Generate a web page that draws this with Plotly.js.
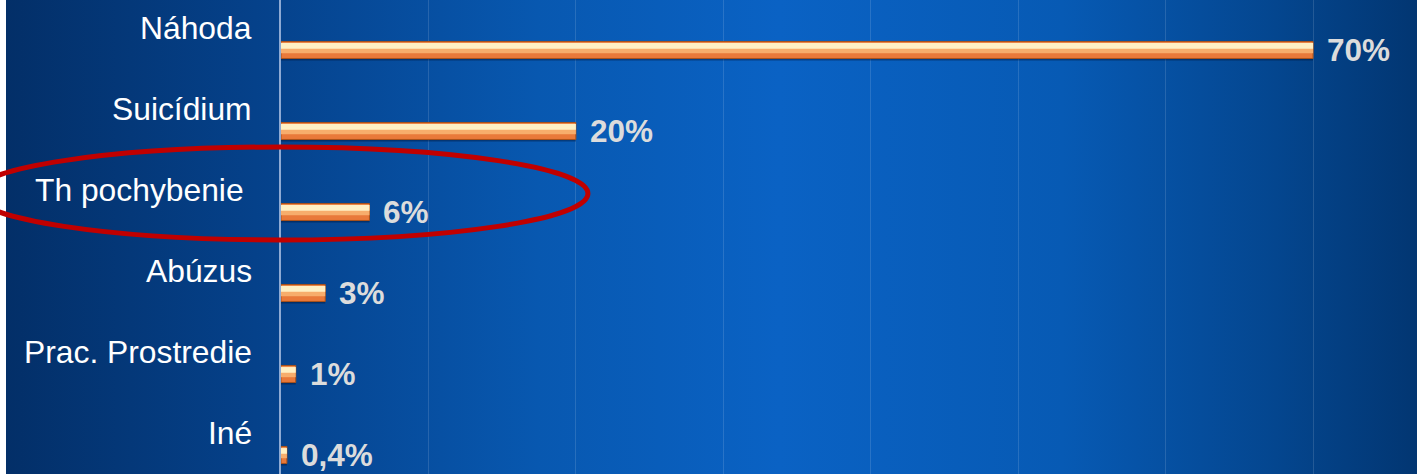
<!DOCTYPE html>
<html><head><meta charset="utf-8">
<script src="https://cdn.plot.ly/plotly-3.0.1.min.js"></script>
<style>
html,body{margin:0;padding:0;}
body{width:1417px;height:474px;overflow:hidden;
background:linear-gradient(to right,#ffffff 0px,#ffffff 6px,#032f68 6px,#05418a 18%,#0858b0 38%,#0a62c4 55%,#075ab4 75%,#04468f 90%,#023672 100%);}
#chart{width:1417px;height:474px;}
</style></head>
<body><div id="chart"></div>
<script>
const categories = ["Náhoda","Suicídium","Th pochybenie","Abúzus","Prac. Prostredie","Iné"];
const categoryLabels = ["Náhoda","Suicídium","Th pochybenie\u00a0","Abúzus","Prac. Prostredie","Iné"];
const values = [70, 20, 6, 3, 1, 0.4];
const valueLabels = ["70%","20%","6%","3%","1%","0,4%"];

const shadow = {type:'bar',orientation:'h',x:values,y:categories,width:0.21,offset:-0.08,
  marker:{color:'rgba(0,15,45,0.4)',line:{width:0}},hoverinfo:'skip'};
const base = {type:'bar',orientation:'h',x:values,y:categories,width:0.21,offset:-0.105,
  marker:{color:'#e9793a',line:{color:'#a9521b',width:1}},hoverinfo:'skip'};
const mid = {type:'bar',orientation:'h',x:values,y:categories,width:0.13,offset:-0.09,
  marker:{color:'#f7ad6c',line:{width:0}},hoverinfo:'skip'};
const hi = {type:'bar',orientation:'h',x:values,y:categories,width:0.07,offset:-0.085,
  marker:{color:'#fff0c4',line:{width:0}},hoverinfo:'skip'};

const annotations = [];
categories.forEach((c,i)=>{
  annotations.push({xref:'paper',yref:'y',x:-0.0255,y:c,xanchor:'right',yanchor:'middle',yshift:22,xshift:2,
    text:categoryLabels[i],showarrow:false,font:{family:'Liberation Sans, Arial, sans-serif',size:31.8,color:'#ffffff'}});
  annotations.push({xref:'x',yref:'y',x:values[i],y:c,xanchor:'left',yanchor:'middle',xshift:12,
    text:'<b>'+valueLabels[i]+'</b>',showarrow:false,font:{family:'Liberation Sans, Arial, sans-serif',size:31.5,color:'#dcdcdc'}});
});

const layout = {
  width:1417,height:474,margin:{l:281,r:0,t:0,b:0,pad:0},
  paper_bgcolor:'rgba(0,0,0,0)',plot_bgcolor:'rgba(0,0,0,0)',
  barmode:'overlay',showlegend:false,
  xaxis:{range:[0,77.05],dtick:10,tick0:0,showgrid:true,gridcolor:'rgba(255,255,255,0.13)',gridwidth:1,
    showticklabels:false,zeroline:false,showline:false,fixedrange:true},
  yaxis:{type:'category',categoryorder:'array',categoryarray:categories,range:[5.235,-0.617],
    showticklabels:false,showgrid:false,zeroline:false,showline:true,linecolor:'#8eaad4',linewidth:2,ticks:'',fixedrange:true},
  annotations:annotations,
  shapes:[{type:'circle',xref:'paper',yref:'paper',x0:-0.2702,x1:0.2702,y0:0.4937,y1:0.6899,
    line:{color:'#c00000',width:5},layer:'above'}]
};
Plotly.newPlot('chart',[shadow,base,mid,hi],layout,{displayModeBar:false,staticPlot:true});
</script></body></html>
